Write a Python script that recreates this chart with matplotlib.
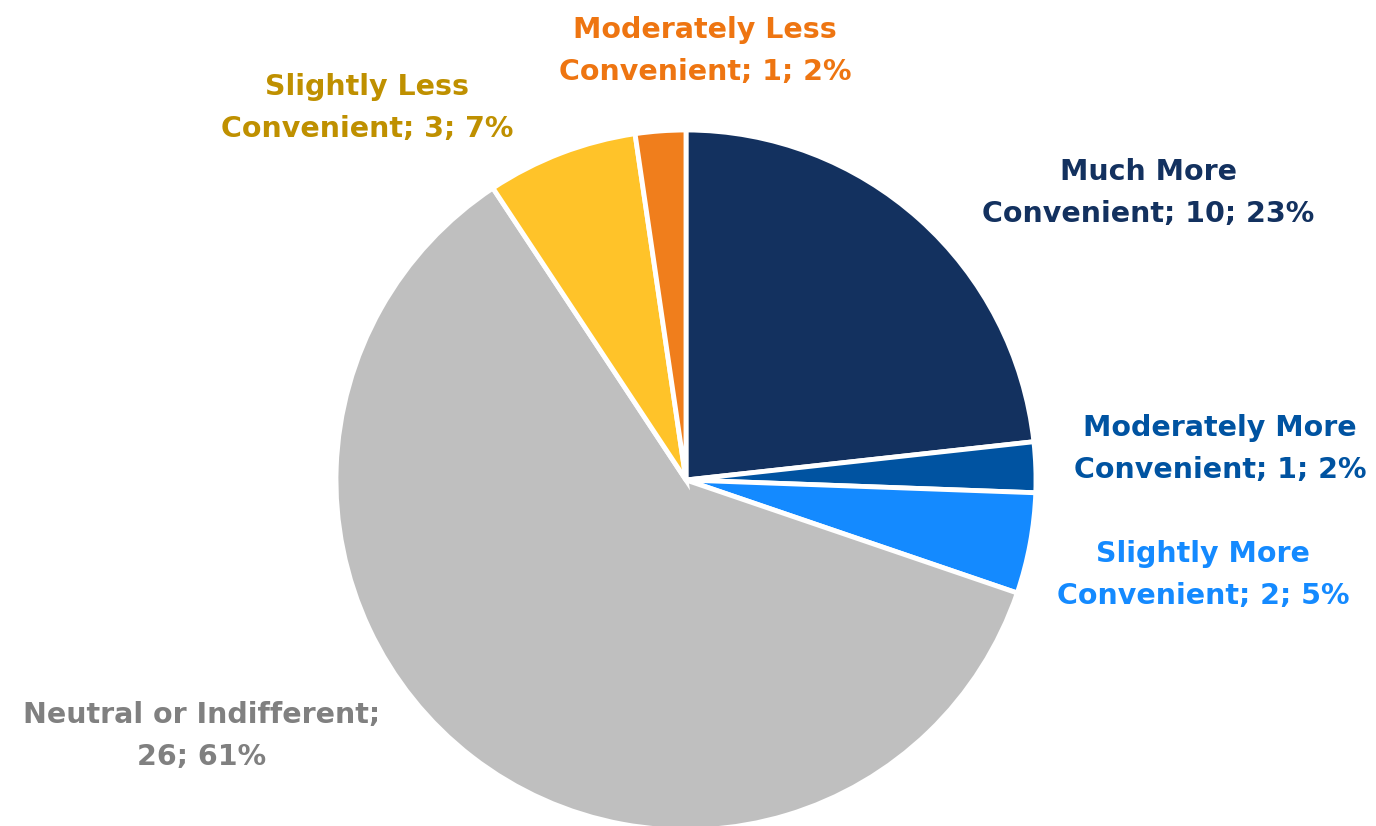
import matplotlib.pyplot as plt

categories = ["Much More\nConvenient", "Moderately More\nConvenient", "Slightly More\nConvenient",
              "Neutral or Indifferent;\n", "Slightly Less\nConvenient", "Moderately Less\nConvenient"]
counts = [10, 1, 2, 26, 3, 1]
percents = [23, 2, 5, 61, 7, 2]

colors = ["#13315F", "#0053A1", "#148AFF", "#BFBFBF", "#FFC329", "#F07E1C"]
text_colors = ["#13315F", "#0053A1", "#148AFF", "#808080", "#BF9000", "#EE7511"]
# label centres in pixels (x, y from bottom)
label_pos = [(1148, 633), (1220, 377), (1203, 251), (202, 90), (367, 718), (705, 775)]

W, H = 1376, 826
fig = plt.figure(figsize=(W / 100, H / 100), dpi=100)
ax = fig.add_axes([0, 0, 1, 1])

ax.pie(counts, colors=colors, startangle=90, counterclock=False,
       center=(686, 346), radius=350,
       wedgeprops=dict(edgecolor="white", linewidth=3.5), frame=True)
ax.set_xlim(0, W)
ax.set_ylim(0, H)
ax.set_aspect("equal")
ax.axis("off")

for cat, n, p, c, (x, y) in zip(categories, counts, percents, text_colors, label_pos):
    if cat.endswith(";\n"):
        txt = f"{cat}{n}; {p}%"
    else:
        txt = f"{cat}; {n}; {p}%"
    ax.text(x, y, txt, ha="center", va="center", color=c, fontsize=20.5,
            fontweight="bold", family="DejaVu Sans", linespacing=1.6)

fig.savefig("out.png", dpi=100)
